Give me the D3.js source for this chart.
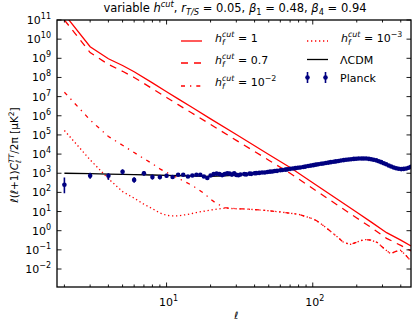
<!DOCTYPE html>
<html>
<head>
<meta charset="utf-8">
<script src="https://cdn.jsdelivr.net/npm/d3@7"></script>
<style>
body { margin: 0; background: #fff; }
text { font-family: "DejaVu Sans", sans-serif; fill: #000; }
</style>
</head>
<body>
<div id="chart"></div>
<script>
// h_f^cut = 1 (solid) and 0.7 (dashed)
var hEll = [2, 3, 4, 5, 6, 8, 10, 12, 15, 20, 30, 50, 70, 100, 150, 200, 250, 320, 400, 470];
var h1Val = [2.0e11, 4.0e9, 9.5e8, 4.2e8, 2.0e8, 5.2e7, 1.8e7, 7.6e6, 2.7e6, 6.9e5, 1.05e5, 9.5e3, 2.0e3, 320, 40, 9.1, 2.9, 0.79, 0.32, 0.16];
var h07Val = [1.0e11, 2.0e9, 4.8e8, 2.1e8, 1.0e8, 2.6e7, 9.0e6, 3.8e6, 1.35e6, 3.5e5, 5.2e4, 4.8e3, 1.0e3, 160, 20, 4.6, 1.5, 0.40, 0.17, 0.087];

// h_f^cut = 1e-2 (dash-dot) and 1e-3 (dotted)
var h2Ell = [2, 3, 4, 5, 6, 7, 8, 9, 10, 12, 15, 18, 20, 22, 25, 30, 35, 46, 60, 80, 100, 107, 120, 131, 150, 163, 181, 200, 225, 250, 277, 310, 341, 370, 398, 430, 470];
var h2Val = [1.7e7, 6.0e5, 8.3e4, 2.9e4, 1.2e4, 5.8e3, 3.1e3, 1.7e3, 1.1e3, 550, 230, 91, 44, 26, 16, 14, 13.5, 11.7, 9.5, 7.2, 4.2, 3.2, 1.7, 0.98, 0.42, 0.24, 0.195, 0.25, 0.35, 0.32, 0.24, 0.11, 0.063, 0.083, 0.095, 0.056, 0.025];
var h3Ell = [2, 3, 4, 5, 6, 7, 8, 9, 10, 11, 12, 14, 16, 20, 25, 30, 35, 46, 60, 80, 100, 107, 120, 131, 150, 163, 181, 200, 225, 250, 277, 310, 341, 370, 398, 430, 470];
var h3Val = [1.7e5, 5.0e3, 520, 110, 50, 24, 14, 8.5, 6.3, 5.9, 6.0, 7.1, 8.9, 12, 15, 14, 13.5, 11.7, 9.5, 7.2, 4.2, 3.2, 1.7, 0.98, 0.42, 0.24, 0.195, 0.25, 0.35, 0.32, 0.24, 0.11, 0.063, 0.083, 0.095, 0.056, 0.025];

// LCDM
var lcdmEll = [2, 3, 4, 5, 6, 8, 10, 13, 16, 20, 25, 30, 40, 50, 60, 70, 80, 100, 120, 150, 180, 200, 220, 240, 260, 280, 300, 330, 360, 400, 430, 450, 470];
var lcdmVal = [1000, 950, 900, 870, 850, 810, 780, 740, 710, 690, 720, 800, 980, 1200, 1450, 1700, 2000, 2750, 3450, 4400, 5300, 5750, 5900, 5700, 5200, 4400, 3500, 2500, 1950, 1650, 1750, 1950, 2250];

// Planck low ell with error bars
var lowEll = [2, 3, 4, 5, 6, 7, 8, 9, 10, 11, 12, 13, 14, 15, 16, 17, 18, 19, 20, 21, 22, 23, 24, 25, 26, 27, 28, 29];
var lowVal = [250, 740, 740, 1200, 450, 1000, 630, 630, 740, 640, 830, 830, 680, 760, 830, 830, 680, 560, 760, 900, 950, 900, 800, 900, 1000, 950, 850, 1000];
var lowLo = [90, 520, 450, 850, 320, 750, 470, 480, 580, 520, 690, 700, 570, 650, 710, 720, 590, 480, 660, 790, 840, 800, 710, 800, 900, 860, 770, 910];
var lowHi = [600, 1050, 1000, 1600, 620, 1300, 850, 820, 930, 780, 990, 980, 810, 880, 960, 950, 780, 650, 870, 1020, 1070, 1010, 900, 1000, 1110, 1050, 940, 1100];

// Planck binned high ell
var highEll = [30, 31, 32, 34, 35, 37, 38, 40, 41, 43, 45, 47, 49, 51, 53, 55, 57, 60, 62, 65, 67, 70, 73, 76, 79, 82, 86, 89, 93, 97, 101, 105, 109, 114, 118, 123, 128, 133, 139, 144, 150, 156, 163, 169, 176, 183, 191, 198, 206, 215, 223, 232, 242, 251, 261, 272, 283, 294, 306, 318, 331, 344, 358, 372, 387, 403, 419, 436, 453, 470];
var highVal = [820, 790, 860, 900, 870, 950, 930, 990, 1010, 1040, 1100, 1090, 1170, 1210, 1240, 1300, 1330, 1420, 1480, 1540, 1600, 1690, 1770, 1840, 1920, 2000, 2120, 2220, 2380, 2500, 2640, 2800, 2920, 3100, 3250, 3430, 3600, 3780, 3990, 4160, 4350, 4600, 4850, 5050, 5250, 5420, 5600, 5720, 5850, 5900, 5920, 5850, 5650, 5400, 5100, 4700, 4250, 3800, 3350, 2950, 2550, 2250, 2000, 1820, 1700, 1640, 1680, 1780, 1950, 2200];

var xTicks = [10, 100];
var xMinor = [2, 3, 4, 5, 6, 7, 8, 9, 20, 30, 40, 50, 60, 70, 80, 90, 200, 300, 400];
var yTicks = d3.range(-2, 12).map(function(e) { return Math.pow(10, e); });

var W = 416, H = 324;
var m = { left: 57, right: 411, top: 20, bottom: 287 };
var red = "#ff0000", navy = "#000080";

var svg = d3.select("#chart").append("svg")
    .attr("width", W)
    .attr("height", H);

var x = d3.scaleLog().domain([1.78, 470]).range([m.left, m.right]);
var y = d3.scaleLog().domain([1.15e-3, 1e11]).range([m.bottom, m.top]);

svg.append("clipPath").attr("id", "clip")
    .append("rect")
    .attr("x", m.left).attr("y", m.top)
    .attr("width", m.right - m.left).attr("height", m.bottom - m.top);

var plot = svg.append("g").attr("clip-path", "url(#clip)");

var line = d3.line()
    .x(function(d) { return x(d[0]); })
    .y(function(d) { return y(d[1]); });

function drawLine(ell, vals, color, dash, width) {
    plot.append("path")
        .datum(d3.zip(ell, vals))
        .attr("fill", "none")
        .attr("stroke", color)
        .attr("stroke-width", width)
        .attr("stroke-dasharray", dash)
        .attr("d", line);
}

drawLine(h3Ell, h3Val, red, "1.3,2.7", 1.3);
drawLine(h2Ell, h2Val, red, "4,5,1.3,5", 1.3);
drawLine(hEll, h07Val, red, "7,6", 1.3);
drawLine(hEll, h1Val, red, null, 1.3);
drawLine(lcdmEll, lcdmVal, "#000", null, 1.3);

// Planck points
var low = lowEll.map(function(l, i) { return { l: l, v: lowVal[i], lo: lowLo[i], hi: lowHi[i] }; });
plot.selectAll(".err").data(low).enter().append("line")
    .attr("x1", function(d) { return x(d.l); })
    .attr("x2", function(d) { return x(d.l); })
    .attr("y1", function(d) { return y(d.lo); })
    .attr("y2", function(d) { return y(d.hi); })
    .attr("stroke", navy)
    .attr("stroke-width", 1.6);
plot.selectAll(".lowpt").data(low).enter().append("circle")
    .attr("cx", function(d) { return x(d.l); })
    .attr("cy", function(d) { return y(d.v); })
    .attr("r", 2.3)
    .attr("fill", navy);
plot.selectAll(".highpt").data(d3.zip(highEll, highVal)).enter().append("circle")
    .attr("cx", function(d) { return x(d[0]); })
    .attr("cy", function(d) { return y(d[1]); })
    .attr("r", 2.3)
    .attr("fill", navy);

// frame
svg.append("rect")
    .attr("x", m.left).attr("y", m.top)
    .attr("width", m.right - m.left).attr("height", m.bottom - m.top)
    .attr("fill", "none")
    .attr("stroke", "#000")
    .attr("stroke-width", 1.3);

// ticks, inside on all four sides
var tk = svg.append("g").attr("stroke", "#000").attr("stroke-width", 0.9);
xTicks.forEach(function(t) {
    tk.append("line").attr("x1", x(t)).attr("x2", x(t)).attr("y1", m.bottom).attr("y2", m.bottom - 4.5);
    tk.append("line").attr("x1", x(t)).attr("x2", x(t)).attr("y1", m.top).attr("y2", m.top + 4.5);
});
xMinor.forEach(function(t) {
    tk.append("line").attr("x1", x(t)).attr("x2", x(t)).attr("y1", m.bottom).attr("y2", m.bottom - 2.5);
    tk.append("line").attr("x1", x(t)).attr("x2", x(t)).attr("y1", m.top).attr("y2", m.top + 2.5);
});
yTicks.forEach(function(t) {
    tk.append("line").attr("y1", y(t)).attr("y2", y(t)).attr("x1", m.left).attr("x2", m.left + 4.5);
    tk.append("line").attr("y1", y(t)).attr("y2", y(t)).attr("x1", m.right).attr("x2", m.right - 4.5);
});

function pow10(g, px, py, e, anchor) {
    var t = g.append("text")
        .attr("x", px).attr("y", py)
        .attr("text-anchor", anchor)
        .attr("font-size", 11);
    t.append("tspan").text("10");
    t.append("tspan").attr("dy", -5).attr("font-size", 8).text(e);
    return t;
}

yTicks.forEach(function(t) {
    var e = Math.round(Math.log10(t));
    pow10(svg, 51, y(t) + 4, e < 0 ? "\u2212" + (-e) : String(e), "end");
});
xTicks.forEach(function(t) {
    var e = Math.round(Math.log10(t));
    pow10(svg, x(t) + 2, 306, String(e), "middle");
});

// text with stacked sub/superscripts
function rich(t, pieces, fs) {
    var shift = 0, pad = 0;
    pieces.forEach(function(p) {
        var ss = fs * 0.72;
        if (p.sup != null || p.sub != null) {
            var w1 = 0;
            if (p.sup != null) {
                var s1 = t.append("tspan").attr("dy", -fs * 0.42 - shift).attr("font-size", ss)
                    .attr("font-style", p.i ? "italic" : null).text(p.sup);
                shift = -fs * 0.42;
                w1 = s1.node().getComputedTextLength();
            }
            if (p.sub != null) {
                var s2 = t.append("tspan").attr("dx", p.sup != null ? -w1 : 0)
                    .attr("dy", fs * 0.25 - shift).attr("font-size", ss)
                    .attr("font-style", p.si ? "italic" : null).text(p.sub);
                shift = fs * 0.25;
                var w2 = s2.node().getComputedTextLength();
                pad = p.sup != null ? Math.max(w1 - w2, 0) : 0;
            }
        } else {
            t.append("tspan").attr("dy", -shift).attr("dx", pad)
                .attr("font-style", p.i ? "italic" : null).text(p.t);
            shift = 0; pad = 0;
        }
    });
    return t;
}

// title
var title = svg.append("text").attr("x", 235).attr("y", 12).attr("text-anchor", "middle").attr("font-size", 11.5);
rich(title, [
    { t: "variable " }, { t: "h", i: 1 }, { sup: "cut", i: 1 },
    { t: ", " }, { t: "r", i: 1 }, { sub: "T/S", si: 1 },
    { t: " = 0.05, " }, { t: "\u03b2", i: 1 }, { sub: "1" },
    { t: " = 0.48, " }, { t: "\u03b2", i: 1 }, { sub: "4" },
    { t: " = 0.94" }
], 11.5);

// axis labels
svg.append("text").attr("x", 236).attr("y", 319).attr("text-anchor", "middle")
    .attr("font-size", 10).attr("font-style", "italic").text("\u2113");
var ylab = svg.append("text")
    .attr("transform", "translate(18,155) rotate(-90)")
    .attr("text-anchor", "middle")
    .attr("font-size", 10.5);
rich(ylab, [
    { t: "\u2113(\u2113+1)" }, { t: "C", i: 1 }, { sup: "TT", i: 1, sub: "\u2113" },
    { t: "/2\u03c0 [\u03bcK" }, { sup: "2" }, { t: "]" }
], 10.5);

// legend
var leg = svg.append("g");
var legRows = [
    { x: 181, y: 41, ty: 42, dash: null, label: "1" },
    { x: 181, y: 63, ty: 64, dash: "7,6", label: "0.7" },
    { x: 181, y: 86, ty: 86, dash: "4,5,1.3,5", label: "10", ex: "\u22122" },
    { x: 307, y: 41, ty: 42, dash: "1.3,2.7", label: "10", ex: "\u22123" }
];
legRows.forEach(function(r) {
    leg.append("line")
        .attr("x1", r.x).attr("x2", r.x + 21)
        .attr("y1", r.y).attr("y2", r.y)
        .attr("stroke", red).attr("stroke-width", 1.3)
        .attr("stroke-dasharray", r.dash);
    var t = leg.append("text").attr("x", r.x + 34).attr("y", r.ty).attr("font-size", 11);
    var pieces = [{ t: "h", i: 1 }, { sup: "cut", i: 1, sub: "f", si: 1 }, { t: " = " + r.label }];
    if (r.ex) pieces.push({ sup: r.ex });
    rich(t, pieces, 11);
});
leg.append("line")
    .attr("x1", 307).attr("x2", 328).attr("y1", 59.5).attr("y2", 59.5)
    .attr("stroke", "#000").attr("stroke-width", 1.3);
leg.append("text").attr("x", 340).attr("y", 63.5).attr("font-size", 11).text("\u039bCDM");
[307.5, 325.5].forEach(function(px) {
    leg.append("line").attr("x1", px).attr("x2", px).attr("y1", 72).attr("y2", 83)
        .attr("stroke", navy).attr("stroke-width", 1.6);
    leg.append("circle").attr("cx", px).attr("cy", 77.5).attr("r", 2.3).attr("fill", navy);
});
leg.append("text").attr("x", 340).attr("y", 81.5).attr("font-size", 11).text("Planck");
</script>
</body>
</html>
